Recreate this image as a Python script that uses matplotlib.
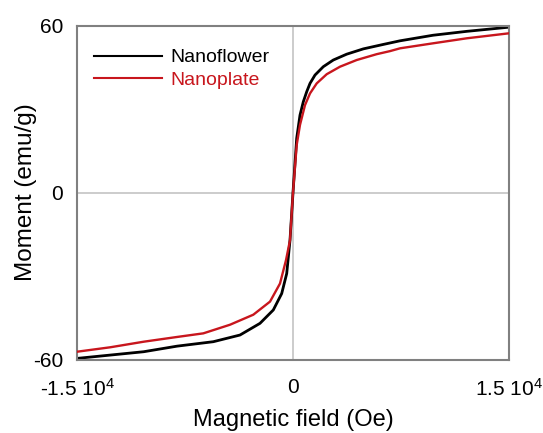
import matplotlib
matplotlib.use("Agg")
import matplotlib.pyplot as plt

plt.rcParams['font.family'] = ['Liberation Sans', 'DejaVu Sans']
plt.rcParams['mathtext.fontset'] = 'custom'
plt.rcParams['mathtext.rm'] = 'Liberation Sans'
plt.rcParams['mathtext.it'] = 'Liberation Sans'

# Magnetization loops (field in Oe, moment in emu/g)
flower_field = [-15000, -12687, -10368, -8055, -5534, -3680, -2292, -1368, -785,
                -437, -208, 0, 257, 486, 715, 951, 1181, 1528, 2104, 2798,
                3729, 4882, 6270, 7430, 9722, 12062, 15000]
flower_moment = [-59.6, -58.4, -57.2, -55.2, -53.6, -51.2, -47.0, -42.2, -36.3,
                 -29.1, -17.1, 0.0, 19.5, 27.8, 32.6, 36.2, 39.2, 42.2, 45.2, 47.6,
                 49.7, 51.6, 53.2, 54.5, 56.5, 57.9, 59.4]

plate_field = [-15000, -12687, -10368, -8055, -6229, -4375, -2757, -1597, -903,
               -486, -208, 0, 257, 486, 833, 1181, 1646, 2340, 3264, 4423,
               5812, 6736, 7430, 9722, 12062, 15000]
plate_moment = [-57.2, -55.6, -53.6, -51.9, -50.6, -47.5, -43.9, -39.2, -32.7,
                -24.3, -17.1, 0.0, 17.1, 24.3, 31.4, 35.6, 39.2, 42.5, 45.2, 47.6,
                49.7, 50.8, 51.8, 53.6, 55.4, 57.2]

x_ticks = [-15000, 0, 15000]
x_tick_labels = [r'-1.5 10$^4$', '0', r'1.5 10$^4$']
y_ticks = [-60, 0, 60]
y_tick_labels = ['-60', '0', '60']

black = '#000000'
red = '#c8161d'

fig = plt.figure(figsize=(5.43, 4.33), dpi=100)
ax = fig.add_axes([0.1418, 0.1697, 0.7956, 0.7714])

ax.axhline(0, color='#c4c4c4', lw=1.2, zorder=1)
ax.axvline(0, color='#c4c4c4', lw=1.2, zorder=1)

ax.plot(flower_field, flower_moment, color=black, lw=2.0, label='Nanoflower', zorder=2,
        solid_joinstyle='round')
ax.plot(plate_field, plate_moment, color=red, lw=1.7, label='Nanoplate', zorder=3,
        solid_joinstyle='round')

ax.set_xlim(-15000, 15000)
ax.set_ylim(-60, 60)
ax.set_xticks(x_ticks)
ax.set_xticklabels(x_tick_labels)
ax.set_yticks(y_ticks)
ax.set_yticklabels(y_tick_labels)
ax.tick_params(axis='both', length=0, labelsize=15)
ax.tick_params(axis='x', pad=13.5)
ax.tick_params(axis='y', pad=10)

for s in ax.spines.values():
    s.set_color('#808080')
    s.set_linewidth(1.5)

ax.set_xlabel('Magnetic field (Oe)', fontsize=17, va='baseline')
ax.xaxis.set_label_coords(0.5, -0.198)
ax.set_ylabel('Moment (emu/g)', fontsize=17.5, va='center')
ax.yaxis.set_label_coords(-0.118, 0.5)

leg = ax.legend(loc='upper left', bbox_to_anchor=(0.04, 0.93), frameon=False,
                fontsize=14, handlelength=3.5, handletextpad=0.4, labelspacing=0.25,
                borderpad=0, borderaxespad=0, labelcolor='linecolor')
for h in leg.get_lines():
    h.set_linewidth(1.5)

fig.savefig('out.png', dpi=100)
